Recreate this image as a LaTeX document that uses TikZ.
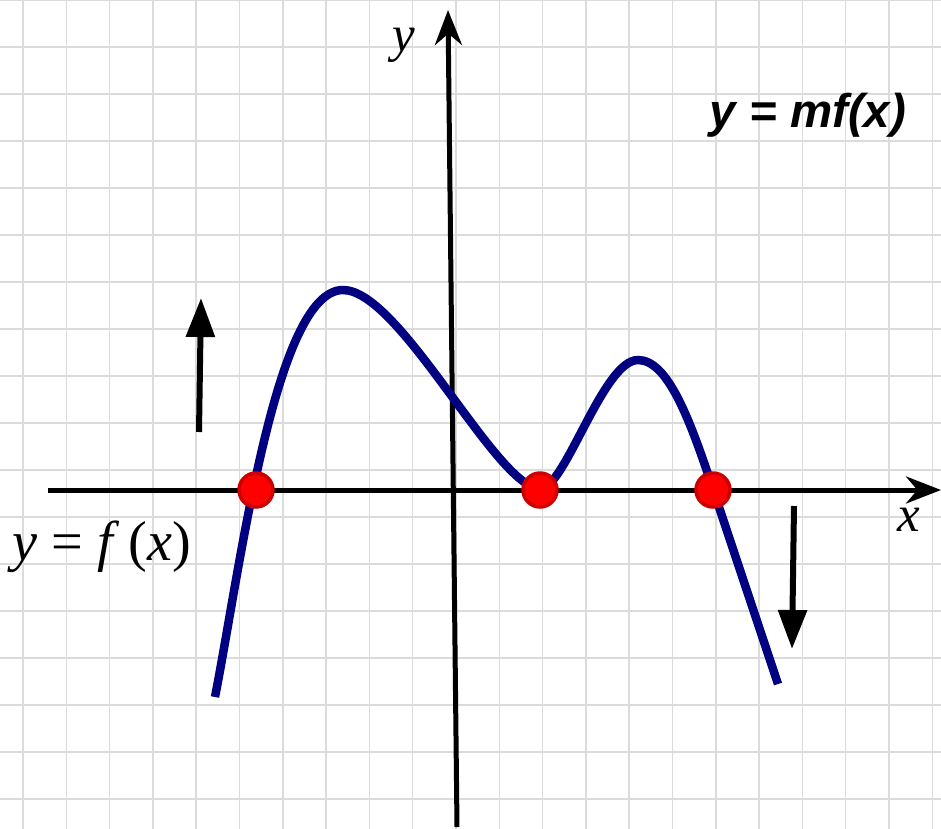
\documentclass[tikz,border=0pt]{standalone}
\usepackage{fontspec}
\usepackage{tikz}
\usetikzlibrary{arrows.meta}
\newfontfamily\timesfont{Liberation Serif}
\newfontfamily\arialfont{Liberation Sans}

\begin{document}
\begin{tikzpicture}[
        x=0.02cm, y=-0.02cm,
        gridline/.style = {draw=gray!28, line width=0.3mm},
        axis/.style = {-{Stealth[length=7mm, width=5.4mm]}, line width=1mm},
        fcurve/.style = {draw=blue!50!black, line width=1.7mm},
        rootdot/.style = {circle, draw=red!80!black, fill=red, line width=0.7mm, minimum size=6.8mm, inner sep=0pt},
        shiftarrow/.style = {-{Triangle[length=7.8mm, width=5.6mm]}, line width=1.2mm},
        axislabel/.style = {font=\fontsize{29}{32}\selectfont\timesfont\itshape}
    ]
        \useasboundingbox (0,0) rectangle (941,829);

        % Graph paper
        \fill[white] (0,0) rectangle (941,829);
        \foreach \i in {0,...,21}
            \draw[gridline] ({23+43.3*\i},0) -- ({23+43.3*\i},829);
        \foreach \j in {0,...,17}
            \draw[gridline] (0,{47*\j}) -- (941,{47*\j});

        % Axes
        \coordinate (xstart) at (48,490);
        \coordinate (xend) at (941,490);
        \coordinate (ystart) at (457,827);
        \coordinate (yend) at (448,10);
        \draw [axis] (xstart) -- (xend);
        \draw [axis] (ystart) -- (yend);
        \node[axislabel] (xlabel) at (909,520) {x};
        \node[axislabel] (ylabel) at (404,45) {y};

        % Curve
        \draw[fcurve] (215,697) .. controls (240,570) and (275,290) .. (343,290)
            .. controls (400,290) and (495,486) .. (540,489)
            .. controls (565,489) and (603,360) .. (638,360)
            .. controls (668,360) and (690,420) .. (713,489)
            .. controls (735,555) and (760,630) .. (778,684);

        % Roots
        \node[rootdot] (root1) at (256,490) {};
        \node[rootdot] (root2) at (540,490) {};
        \node[rootdot] (root3) at (713,490) {};

        % Stretch arrows
        \coordinate (upfrom) at (199,432);
        \coordinate (upto) at (201,298);
        \coordinate (downfrom) at (794,506);
        \coordinate (downto) at (792,649);
        \draw [shiftarrow] (upfrom) -- (upto);
        \draw [shiftarrow] (downfrom) -- (downto);

        % Labels
        \node[font=\fontsize{32}{36}\selectfont\timesfont, anchor=base] (flabel) at (102,560) {\textit{y} = \textit{f}\,(\textit{x})};
        \node[font=\fontsize{27}{30}\selectfont\arialfont\bfseries\itshape] (mflabel) at (808,115) {y = mf(x)};

    \end{tikzpicture}
\end{document}
